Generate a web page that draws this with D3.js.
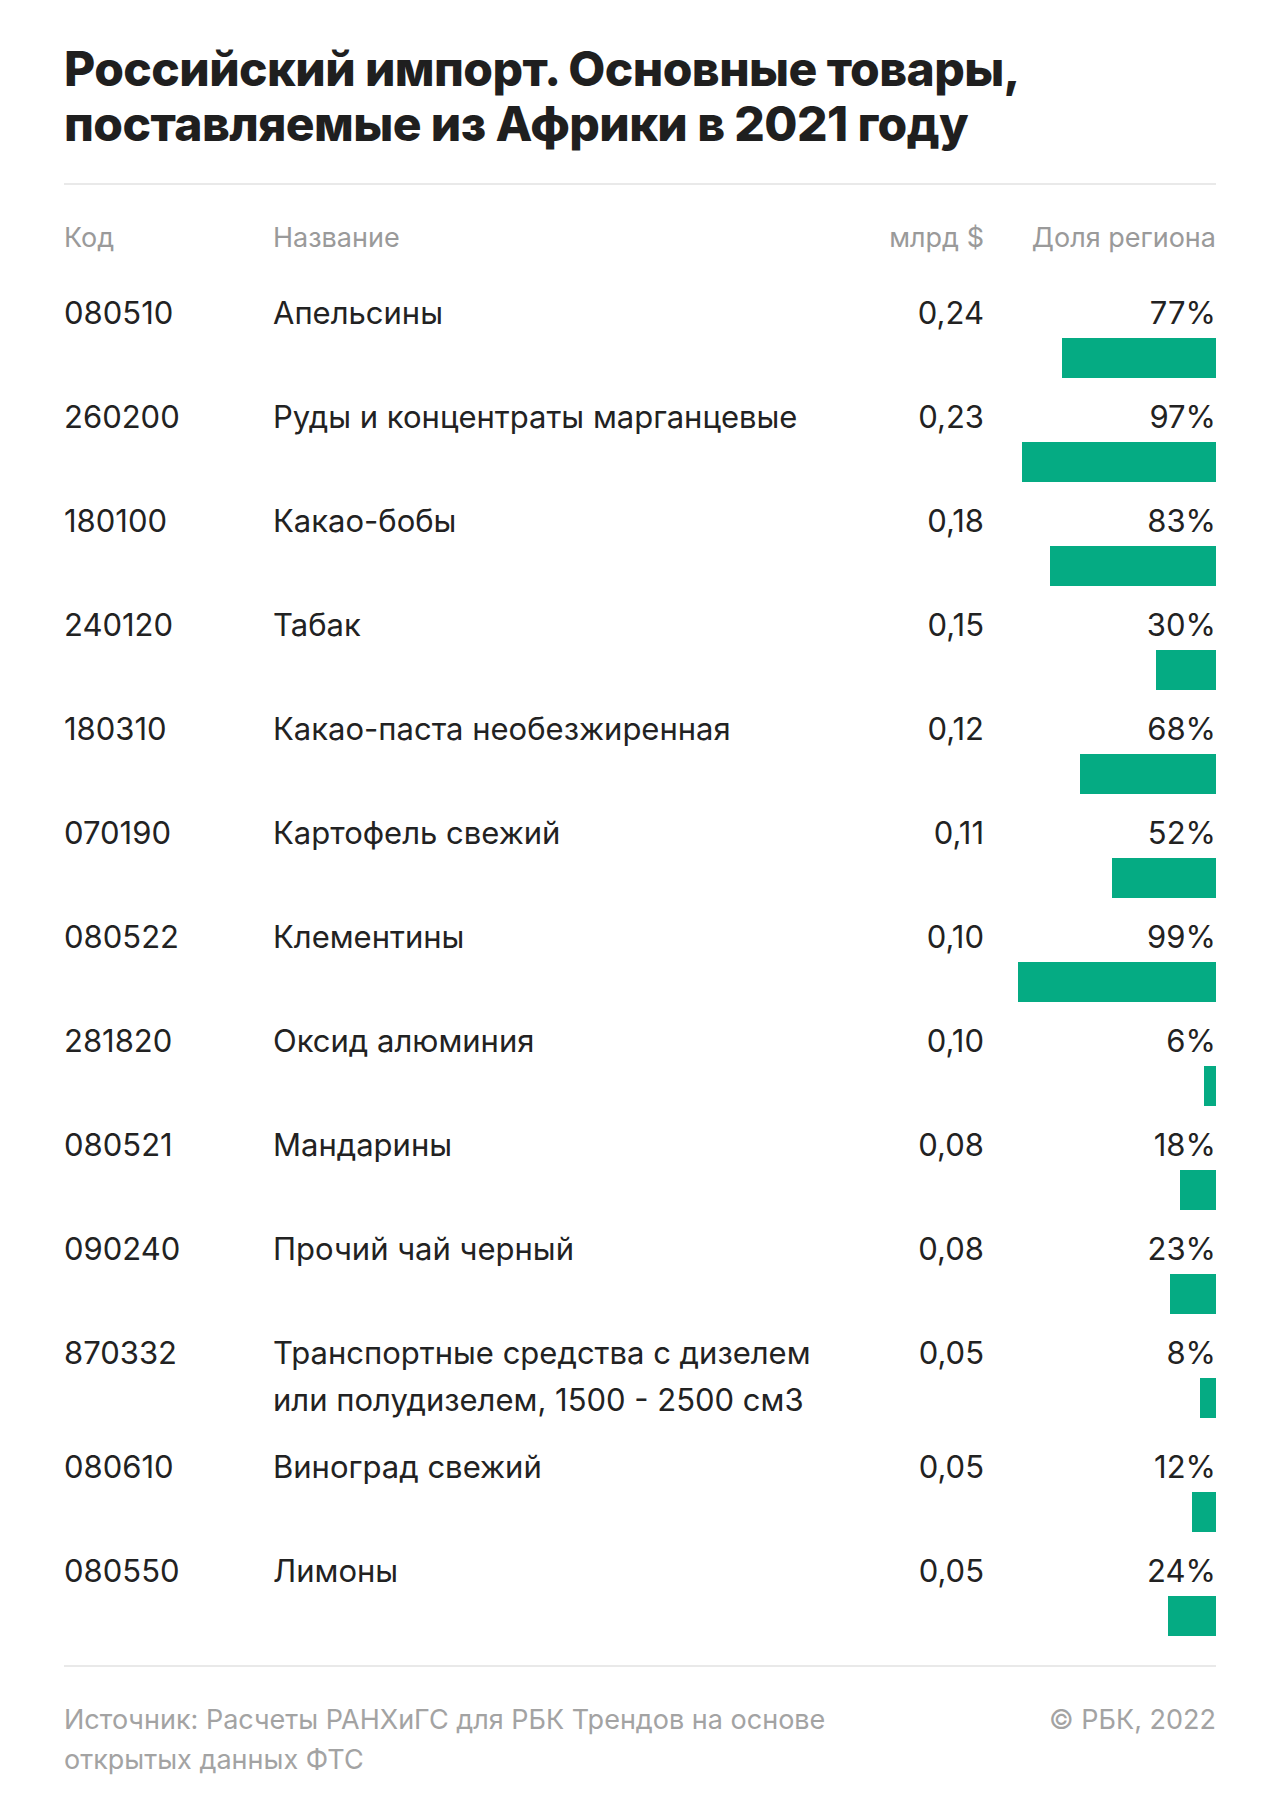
<!DOCTYPE html>
<html><head><meta charset="utf-8">
<script src="https://cdn.jsdelivr.net/npm/d3@7/dist/d3.min.js"></script>
<style>
html,body{margin:0;padding:0;background:#fff;}
svg{display:block;font-family:Inter,"Noto Sans",sans-serif;}
</style></head>
<body>
<svg id="chart" width="1280" height="1820"></svg>
<script>
const titleLines = ["Российский импорт. Основные товары,", "поставляемые из Африки в 2021 году"];
const headers = ["Код", "Название", "млрд $", "Доля региона"];
const codes = ["080510","260200","180100","240120","180310","070190","080522","281820","080521","090240","870332","080610","080550"];
const names = ["Апельсины","Руды и концентраты марганцевые","Какао-бобы","Табак","Какао-паста необезжиренная","Картофель свежий","Клементины","Оксид алюминия","Мандарины","Прочий чай черный","Транспортные средства с дизелем\nили полудизелем, 1500 - 2500 см3","Виноград свежий","Лимоны"];
const values = [0.24,0.23,0.18,0.15,0.12,0.11,0.10,0.10,0.08,0.08,0.05,0.05,0.05];
const shares = [77,97,83,30,68,52,99,6,18,23,8,12,24];
const sourceLines = ["Источник: Расчеты РАНХиГС для РБК Трендов на основе", "открытых данных ФТС"];
const copyright = "© РБК, 2022";

const svg = d3.select("#chart");
const L = 64, R = 1216;
const colName = 273, colVal = 984;
const green = "#05ab83", dark = "#222222", grey = "#9a9a9a", lightLine = "#e9e9e9";
const fmt = v => d3.format(".2f")(v).replace(".", ",");

// title
svg.append("text").attr("x", L).attr("y", 86)
  .attr("font-size", 48).attr("font-weight", 800).attr("fill", "#1f1f1f")
  .attr("letter-spacing", -0.6)
  .selectAll("tspan").data(titleLines).join("tspan")
  .attr("x", L).attr("dy", (d,i) => i ? 55 : 0).text(d => d);

svg.append("rect").attr("x", L).attr("y", 183).attr("width", R-L).attr("height", 2).attr("fill", lightLine);

// headers
const hy = 237;
const hAnchor = ["start","start","end","end"];
const hX = [L, colName, colVal, R];
svg.selectAll("text.hdr").data(headers).join("text").attr("class","hdr")
  .attr("x", (d,i) => hX[i]).attr("y", hy).attr("dy", "0.36em")
  .attr("text-anchor", (d,i) => hAnchor[i])
  .attr("font-size", 27).attr("fill", grey).text(d => d);

// rows layout
const rows = codes.map((c,i) => ({code:c, name:names[i].split("\n"), value:values[i], share:shares[i]}));
let cy = 313;
const lineH = 47, barOff = 25, barH = 40, gap = 39;
rows.forEach(r => {
  r.cy = cy;
  const bottom = Math.max(barOff + barH, (r.name.length - 1) * lineH + 28);
  cy += bottom + gap;
});

const x = d3.scaleLinear().domain([0, 100]).range([0, 200]);
const fs = 31;

const g = svg.selectAll("g.row").data(rows).join("g").attr("class","row");
g.append("text").attr("x", L).attr("y", d => d.cy).attr("dy","0.36em")
  .attr("font-size", fs).attr("fill", dark).text(d => d.code);
g.append("text").attr("font-size", fs).attr("fill", dark)
  .each(function(d){
    d3.select(this).selectAll("tspan").data(d.name).join("tspan")
      .attr("x", colName).attr("y", (t,i) => d.cy + i*lineH).attr("dy","0.36em").text(t => t);
  });
g.append("text").attr("x", colVal).attr("y", d => d.cy).attr("dy","0.36em")
  .attr("text-anchor","end").attr("font-size", fs).attr("fill", dark).text(d => fmt(d.value));
g.append("text").attr("x", R).attr("y", d => d.cy).attr("dy","0.36em")
  .attr("text-anchor","end").attr("font-size", fs).attr("fill", dark).text(d => d.share + "%");
g.append("rect").attr("x", d => R - x(d.share)).attr("y", d => d.cy + barOff)
  .attr("width", d => x(d.share)).attr("height", barH).attr("fill", green);

// footer
svg.append("rect").attr("x", L).attr("y", 1665).attr("width", R-L).attr("height", 2).attr("fill", lightLine);
svg.append("text").attr("font-size", 27).attr("fill", "#a3a3a3")
  .selectAll("tspan").data(sourceLines).join("tspan")
  .attr("x", L).attr("y", (d,i) => 1719 + i*40).attr("dy","0.36em").text(d => d);
svg.append("text").attr("x", R).attr("y", 1719).attr("dy","0.36em").attr("text-anchor","end")
  .attr("font-size", 27).attr("fill", "#a3a3a3").text(copyright);
</script>
</body></html>
